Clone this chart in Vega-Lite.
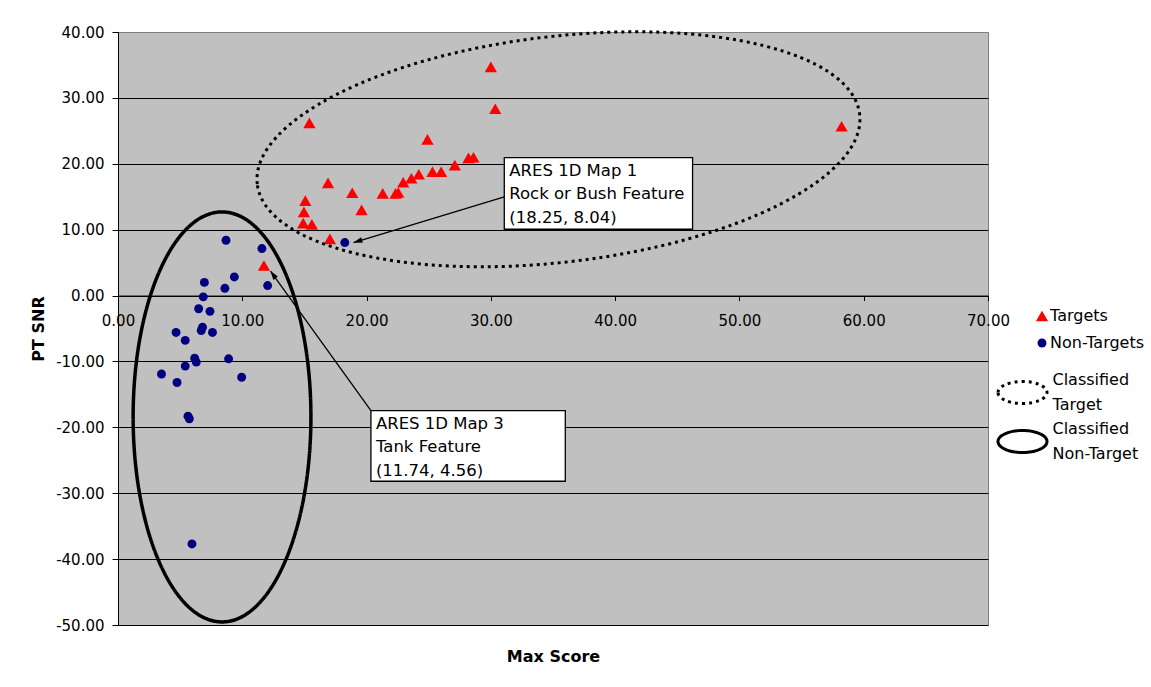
{
  "$schema": "https://vega.github.io/schema/vega-lite/v6.json",
  "width": 870,
  "height": 593,
  "autosize": "none",
  "padding": {"left": 118, "top": 32, "right": 163, "bottom": 62},
  "background": "white",
  "config": {
    "font": "DejaVu Sans",
    "view": {"fill": "#C0C0C0", "stroke": "#808080", "strokeWidth": 1},
    "legend": {
      "title": null,
      "direction": "vertical",
      "padding": 0,
      "labelFontSize": 16,
      "labelColor": "black",
      "labelLimit": 0
    }
  },
  "datasets": {
    "points": [
      {"series": "Targets", "max_score": 30.0, "pt_snr": 34.7},
      {"series": "Targets", "max_score": 30.35, "pt_snr": 28.35},
      {"series": "Targets", "max_score": 15.4, "pt_snr": 26.2},
      {"series": "Targets", "max_score": 24.9, "pt_snr": 23.7},
      {"series": "Targets", "max_score": 28.2, "pt_snr": 20.9},
      {"series": "Targets", "max_score": 28.6, "pt_snr": 21.0},
      {"series": "Targets", "max_score": 27.1, "pt_snr": 19.8},
      {"series": "Targets", "max_score": 25.3, "pt_snr": 18.8},
      {"series": "Targets", "max_score": 26.0, "pt_snr": 18.8},
      {"series": "Targets", "max_score": 24.2, "pt_snr": 18.4},
      {"series": "Targets", "max_score": 23.6, "pt_snr": 17.8},
      {"series": "Targets", "max_score": 22.95, "pt_snr": 17.2},
      {"series": "Targets", "max_score": 22.33, "pt_snr": 15.5},
      {"series": "Targets", "max_score": 22.55, "pt_snr": 15.65},
      {"series": "Targets", "max_score": 21.3, "pt_snr": 15.5},
      {"series": "Targets", "max_score": 16.9, "pt_snr": 17.1},
      {"series": "Targets", "max_score": 18.85, "pt_snr": 15.6},
      {"series": "Targets", "max_score": 19.6, "pt_snr": 13.0},
      {"series": "Targets", "max_score": 15.07, "pt_snr": 14.4},
      {"series": "Targets", "max_score": 14.96, "pt_snr": 12.7},
      {"series": "Targets", "max_score": 14.9, "pt_snr": 11.0},
      {"series": "Targets", "max_score": 15.6, "pt_snr": 10.8},
      {"series": "Targets", "max_score": 17.05, "pt_snr": 8.6},
      {"series": "Targets", "max_score": 58.22, "pt_snr": 25.7},
      {"series": "Targets", "max_score": 11.74, "pt_snr": 4.56},
      {"series": "Non-Targets", "max_score": 8.69, "pt_snr": 8.39},
      {"series": "Non-Targets", "max_score": 11.58, "pt_snr": 7.13},
      {"series": "Non-Targets", "max_score": 12.04, "pt_snr": 1.52},
      {"series": "Non-Targets", "max_score": 9.36, "pt_snr": 2.83},
      {"series": "Non-Targets", "max_score": 8.6, "pt_snr": 1.1},
      {"series": "Non-Targets", "max_score": 6.95, "pt_snr": 2.0},
      {"series": "Non-Targets", "max_score": 6.86, "pt_snr": -0.2},
      {"series": "Non-Targets", "max_score": 6.49, "pt_snr": -2.0},
      {"series": "Non-Targets", "max_score": 7.4, "pt_snr": -2.4},
      {"series": "Non-Targets", "max_score": 4.67, "pt_snr": -5.6},
      {"series": "Non-Targets", "max_score": 6.8, "pt_snr": -4.8},
      {"series": "Non-Targets", "max_score": 6.7, "pt_snr": -5.3},
      {"series": "Non-Targets", "max_score": 7.6, "pt_snr": -5.6},
      {"series": "Non-Targets", "max_score": 5.41, "pt_snr": -6.8},
      {"series": "Non-Targets", "max_score": 6.17, "pt_snr": -9.5},
      {"series": "Non-Targets", "max_score": 6.3, "pt_snr": -10.1},
      {"series": "Non-Targets", "max_score": 8.9, "pt_snr": -9.6},
      {"series": "Non-Targets", "max_score": 5.41, "pt_snr": -10.7},
      {"series": "Non-Targets", "max_score": 3.5, "pt_snr": -11.9},
      {"series": "Non-Targets", "max_score": 4.75, "pt_snr": -13.2},
      {"series": "Non-Targets", "max_score": 9.95, "pt_snr": -12.4},
      {"series": "Non-Targets", "max_score": 5.63, "pt_snr": -18.3},
      {"series": "Non-Targets", "max_score": 5.74, "pt_snr": -18.7},
      {"series": "Non-Targets", "max_score": 5.95, "pt_snr": -37.7},
      {"series": "Non-Targets", "max_score": 18.25, "pt_snr": 8.04}
    ],
    "callouts": [
      {"callout": "ARES 1D Map 1\nRock or Bush Feature\n(18.25, 8.04)", "x_left": 31.08, "x_right": 46.23, "y_top": 20.94, "y_bottom": 10.06},
      {"callout": "ARES 1D Map 3\nTank Feature\n(11.74, 4.56)", "x_left": 20.35, "x_right": 35.99, "y_top": -17.45, "y_bottom": -28.18}
    ],
    "arrows": [
      {"feature": "Rock or Bush", "x_from": 31.08, "y_from": 14.96, "x_to": 18.95, "y_to": 8.04},
      {"feature": "Tank", "x_from": 20.35, "y_from": -17.45, "x_to": 12.27, "y_to": 3.71}
    ]
  },
  "layer": [
    {
      "data": {"name": "points"},
      "transform": [{"filter": "datum.series == 'Targets'"}],
      "mark": {"type": "point", "filled": true, "opacity": 1, "strokeWidth": 0, "size": 150},
      "encoding": {
        "x": {
          "field": "max_score", "type": "quantitative",
          "scale": {"domain": [0, 70], "nice": false, "zero": false},
          "axis": {
            "values": [0, 10, 20, 30, 40, 50, 60, 70],
            "format": ".2f",
            "offset": -329.44,
            "grid": false,
            "domainColor": "black", "domainWidth": 1,
            "tickColor": "black", "tickSize": 5, "tickWidth": 1,
            "labelFontSize": 15, "labelColor": "black", "labelPadding": 13,
            "labelFlush": false, "labelOverlap": false,
            "title": "Max Score", "titleFontSize": 16, "titleFontWeight": "bold", "titleColor": "black",
            "titleY": 361.4, "titleBaseline": "middle"
          }
        },
        "y": {
          "field": "pt_snr", "type": "quantitative",
          "scale": {"domain": [-50, 40], "nice": false, "zero": false},
          "axis": {
            "values": [-50, -40, -30, -20, -10, 0, 10, 20, 30, 40],
            "labelExpr": "replace(format(datum.value, '.2f'), '\u2212', '-')",
            "grid": true,
            "gridColor": {"condition": {"test": "datum.value == 40", "value": "#808080"}, "value": "black"},
            "gridWidth": 1,
            "domainColor": "black", "domainWidth": 1,
            "tickColor": "black", "tickSize": 6, "tickWidth": 1,
            "labelFontSize": 15, "labelColor": "black", "labelPadding": 8,
            "title": "PT SNR", "titleFontSize": 16, "titleFontWeight": "bold", "titleColor": "black",
            "titleX": -80, "titleBaseline": "middle", "titleAlign": "center"
          }
        },
        "shape": {
          "field": "series", "type": "nominal",
          "scale": {"domain": ["Targets", "Non-Targets"], "range": ["triangle-up", "circle"]},
          "legend": {
            "orient": "none", "legendX": 916, "legendY": 276,
            "symbolSize": 150, "labelOffset": 0, "rowPadding": 11,
            "encoding": {
              "symbols": {
                "size": {"value": {"expr": "datum.value == 'Targets' ? 150 : 80"}},
                "strokeWidth": {"value": 0},
                "opacity": {"value": 1}
              }
            }
          }
        },
        "color": {
          "field": "series", "type": "nominal",
          "scale": {"domain": ["Targets", "Non-Targets"], "range": ["#FF0000", "#000080"]},
          "legend": {
            "orient": "none", "legendX": 916, "legendY": 276,
            "symbolSize": 150, "labelOffset": 0, "rowPadding": 11,
            "encoding": {
              "symbols": {
                "size": {"value": {"expr": "datum.value == 'Targets' ? 150 : 80"}},
                "strokeWidth": {"value": 0},
                "opacity": {"value": 1}
              }
            }
          }
        }
      }
    },
    {
      "data": {"name": "points"},
      "transform": [{"filter": "datum.series == 'Non-Targets'"}],
      "mark": {"type": "point", "filled": true, "opacity": 1, "strokeWidth": 0, "size": 80},
      "encoding": {
        "x": {"field": "max_score", "type": "quantitative"},
        "y": {"field": "pt_snr", "type": "quantitative"},
        "shape": {"field": "series", "type": "nominal"},
        "color": {"field": "series", "type": "nominal"}
      }
    },
    {
      "data": {"values": [{"region": "Classified Target", "max_score": 35.44, "pt_snr": 22.2}]},
      "mark": {
        "type": "point",
        "shape": "M-1,0A1,0.3724 0 1,1 1,0A1,0.3724 0 1,1 -1,0Z",
        "size": 367721, "angle": 353.4,
        "filled": false, "opacity": 1,
        "stroke": "black", "strokeWidth": 3
      },
      "encoding": {
        "x": {"field": "max_score", "type": "quantitative"},
        "y": {"field": "pt_snr", "type": "quantitative"},
        "strokeDash": {
          "field": "region", "type": "nominal",
          "scale": {"domain": ["Classified Target", "Classified Non-Target"], "range": [[3, 4], [1, 0]]},
          "legend": {
            "orient": "none", "legendX": 878.5, "legendY": 334.5,
            "symbolSize": 2400, "labelOffset": 4, "rowPadding": 2,
            "labelExpr": "datum.label == 'Classified Target' ? ['Classified', 'Target'] : ['Classified', 'Non-Target']",
            "encoding": {
              "symbols": {
                "shape": {"value": "M-1,0A1,0.45 0 1,1 1,0A1,0.45 0 1,1 -1,0Z"},
                "size": {"value": 2400},
                "fill": {"value": "transparent"},
                "stroke": {"value": "#000000"},
                "strokeWidth": {"value": 3},
                "opacity": {"value": 1}
              },
              "labels": {"lineHeight": {"value": 25}, "dy": {"value": -12.5}}
            }
          }
        }
      }
    },
    {
      "data": {"values": [{"region": "Classified Non-Target", "max_score": 8.37, "pt_snr": -18.42}]},
      "mark": {
        "type": "point",
        "shape": "M-0.4336,0A0.4336,1 0 1,1 0.4336,0A0.4336,1 0 1,1 -0.4336,0Z",
        "size": 168100,
        "filled": false, "opacity": 1,
        "stroke": "black", "strokeWidth": 3.5
      },
      "encoding": {
        "x": {"field": "max_score", "type": "quantitative"},
        "y": {"field": "pt_snr", "type": "quantitative"},
        "strokeDash": {"field": "region", "type": "nominal"}
      }
    },
    {
      "data": {"name": "arrows"},
      "mark": {"type": "rule", "color": "black", "strokeWidth": 1.3},
      "encoding": {
        "x": {"field": "x_from", "type": "quantitative"},
        "y": {"field": "y_from", "type": "quantitative"},
        "x2": {"field": "x_to"},
        "y2": {"field": "y_to"}
      }
    },
    {
      "data": {"name": "arrows"},
      "transform": [{"filter": "datum.feature == 'Rock or Bush'"}],
      "mark": {"type": "point", "shape": "M0,0L0.7,2.2L-0.7,2.2Z", "size": 64, "angle": 253.2, "filled": true, "opacity": 1, "color": "black", "strokeWidth": 0},
      "encoding": {
        "x": {"field": "x_to", "type": "quantitative"},
        "y": {"field": "y_to", "type": "quantitative"}
      }
    },
    {
      "data": {"name": "arrows"},
      "transform": [{"filter": "datum.feature == 'Tank'"}],
      "mark": {"type": "point", "shape": "M0,0L0.7,2.2L-0.7,2.2Z", "size": 64, "angle": 324.3, "filled": true, "opacity": 1, "color": "black", "strokeWidth": 0},
      "encoding": {
        "x": {"field": "x_to", "type": "quantitative"},
        "y": {"field": "y_to", "type": "quantitative"}
      }
    },
    {
      "data": {"name": "callouts"},
      "mark": {"type": "rect", "fill": "white", "stroke": "black", "strokeWidth": 1.3},
      "encoding": {
        "x": {"field": "x_left", "type": "quantitative"},
        "x2": {"field": "x_right"},
        "y": {"field": "y_top", "type": "quantitative"},
        "y2": {"field": "y_bottom"}
      }
    },
    {
      "data": {"name": "callouts"},
      "mark": {"type": "text", "align": "left", "baseline": "middle", "dx": 5, "dy": 13.5, "fontSize": 16.5, "lineHeight": 23.3, "lineBreak": "\n", "color": "black"},
      "encoding": {
        "x": {"field": "x_left", "type": "quantitative"},
        "y": {"field": "y_top", "type": "quantitative"},
        "text": {"field": "callout"}
      }
    }
  ]
}
